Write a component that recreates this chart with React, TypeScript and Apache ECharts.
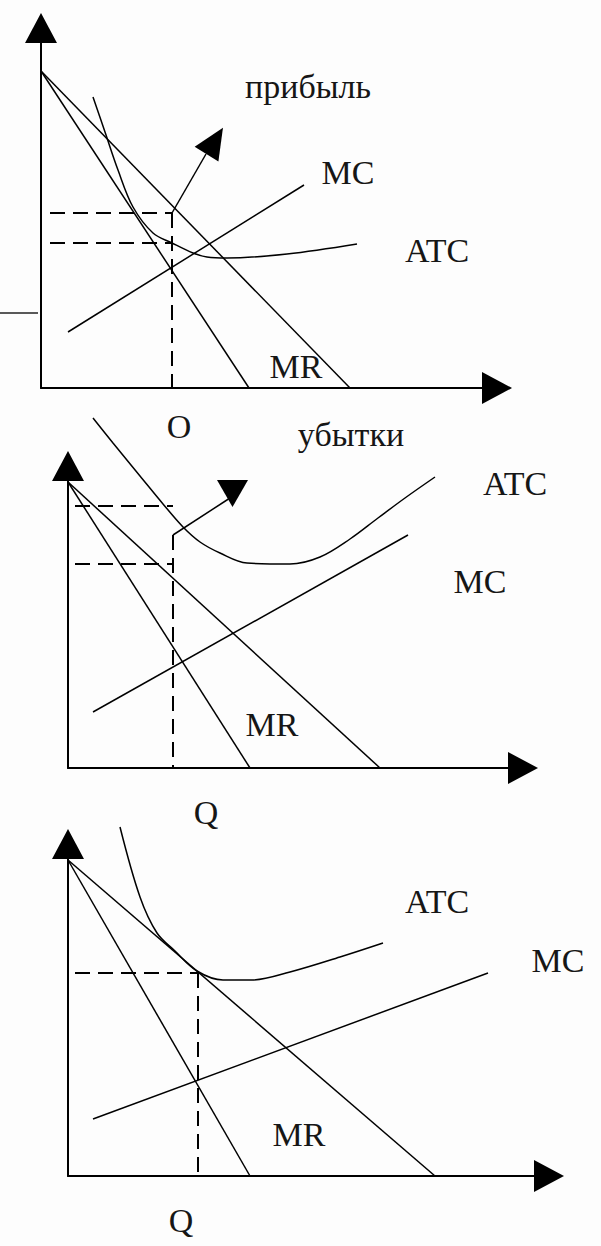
import React, { useEffect, useRef } from "react";
import * as echarts from "echarts";

// ---------- Panel 1: прибыль (profit) ----------
const p1Demand = [[0, 317], [309, 0]];
const p1MR = [[0, 317], [208, 0]];
const p1MC = [[27, 56], [263, 203]];
const p1ATC = [[52, 291], [64, 256], [77, 218], [92, 181], [112, 155], [131, 145], [152, 135], [166, 131], [186, 130], [246, 134], [316, 144]];
const p1PriceDash = [[9, 175], [131, 175]];
const p1CostDash = [[9, 145], [131, 145]];
const p1QDash = [[131, 175], [131, 0]];
const p1Arrow = [[131, 175], [165, 234]];
const p1ArrowHead = [[173.75, 247]];

// ---------- Panel 2: убытки (losses) ----------
const p2Demand = [[0, 286], [312, 0]];
const p2MR = [[0, 286], [182, 0]];
const p2MC = [[25, 56], [340, 233]];
const p2ATC = [[25, 350], [45, 325], [72, 292], [95, 264], [115, 241], [132, 226], [152, 215], [179, 205], [222, 204], [252, 211], [282, 229], [310, 250], [337, 270], [367, 291]];
const p2CostDash = [[7, 262], [105, 262]];
const p2PriceDash = [[7, 204], [105, 204]];
const p2QDash = [[105, 233], [105, 0]];
const p2Arrow = [[105, 233], [162, 270]];
const p2ArrowHead = [[164.5, 274.5]];

// ---------- Panel 3: break-even ----------
const p3Demand = [[0, 316], [367, 0]];
const p3MR = [[0, 316], [182, 0]];
const p3MC = [[25, 57], [420, 203]];
const p3ATC = [[52, 349], [72, 279], [89, 243], [107, 225], [129, 205], [155, 196], [184, 196], [222, 204], [272, 219], [315, 233]];
const p3PriceDash = [[7, 203], [130, 203]];
const p3QDash = [[130, 203], [130, 0]];

// axis extents (data units) for each panel
const axisX = [456, 455, 481];
const axisY = [360, 302, 332];

const FONT = "'Liberation Serif', 'DejaVu Serif', serif";

export default function App() {
  const ref = useRef<HTMLDivElement>(null);

  useEffect(() => {
    document.body.style.margin = "0";
    document.body.style.overflow = "hidden";
    if (!ref.current) return;
    const chart = echarts.init(ref.current, undefined, { renderer: "svg" });

    const grids = [
      { left: 41, top: 28, width: 456, height: 360 },
      { left: 68, top: 466, width: 455, height: 302 },
      { left: 68, top: 844, width: 481, height: 332 },
    ];

    const mkAxis = (i: number, isX: boolean) => ({
      type: "value",
      gridIndex: i,
      min: 0,
      max: isX ? axisX[i] : axisY[i],
      axisLine: {
        show: true,
        onZero: false,
        symbol: ["none", "triangle"],
        symbolSize: [32, 30],
        lineStyle: { color: "#000", width: 2 },
      },
      axisTick: { show: false },
      axisLabel: { show: false },
      splitLine: { show: false },
    });

    const line = (i: number, data: number[][], extra: any = {}) => ({
      type: "line",
      xAxisIndex: i,
      yAxisIndex: i,
      data,
      symbol: "none",
      showSymbol: false,
      clip: false,
      silent: true,
      lineStyle: { color: "#000", width: 1.5 },
      ...extra,
    });

    const dashed = (i: number, data: number[][]) =>
      line(i, data, { lineStyle: { color: "#000", width: 2, type: [15, 8] } });

    const head = (i: number, data: number[][], rot: number, size: number[]) => ({
      type: "scatter",
      xAxisIndex: i,
      yAxisIndex: i,
      data,
      symbol: "triangle",
      symbolSize: size,
      symbolRotate: rot,
      itemStyle: { color: "#000", opacity: 1 },
      silent: true,
      clip: false,
      z: 5,
    });

    const smooth = { smooth: 0.35 };

    const txt = (x: number, y: number, text: string) => ({
      type: "text",
      x,
      y,
      style: {
        text,
        fill: "#161616",
        font: `34px ${FONT}`,
        textAlign: "center",
        textVerticalAlign: "middle",
      },
    });

    chart.setOption({
      animation: false,
      backgroundColor: "#fdfdfd",
      grid: grids,
      xAxis: [mkAxis(0, true), mkAxis(1, true), mkAxis(2, true)],
      yAxis: [mkAxis(0, false), mkAxis(1, false), mkAxis(2, false)],
      series: [
        // panel 1
        line(0, p1Demand),
        line(0, p1MR),
        line(0, p1MC),
        line(0, p1ATC, smooth),
        dashed(0, p1PriceDash),
        dashed(0, p1CostDash),
        dashed(0, p1QDash),
        line(0, p1Arrow),
        head(0, p1ArrowHead, -32, [28, 31]),
        // panel 2
        line(1, p2Demand),
        line(1, p2MR),
        line(1, p2MC),
        line(1, p2ATC, smooth),
        dashed(1, p2CostDash),
        dashed(1, p2PriceDash),
        dashed(1, p2QDash),
        line(1, p2Arrow),
        head(1, p2ArrowHead, 180, [31, 27]),
        // panel 3
        line(2, p3Demand),
        line(2, p3MR),
        line(2, p3MC),
        line(2, p3ATC, smooth),
        dashed(2, p3PriceDash),
        dashed(2, p3QDash),
      ],
      graphic: [
        {
          type: "line",
          shape: { x1: 0, y1: 313, x2: 38, y2: 313 },
          style: { stroke: "#222", lineWidth: 1.5 },
        },
        txt(308, 86, "прибыль"),
        txt(348, 172, "MC"),
        txt(437, 250, "ATC"),
        txt(296, 366, "MR"),
        txt(179, 426, "O"),
        txt(351, 434, "убытки"),
        txt(515, 483, "ATC"),
        txt(480, 581, "MC"),
        txt(272, 724, "MR"),
        txt(206, 812, "Q"),
        txt(437, 901, "ATC"),
        txt(558, 960, "MC"),
        txt(299, 1134, "MR"),
        txt(181, 1220, "Q"),
      ],
    });

    return () => chart.dispose();
  }, []);

  return (
    <div
      ref={ref}
      style={{ position: "absolute", left: 0, top: 0, width: 601, height: 1246 }}
    />
  );
}
